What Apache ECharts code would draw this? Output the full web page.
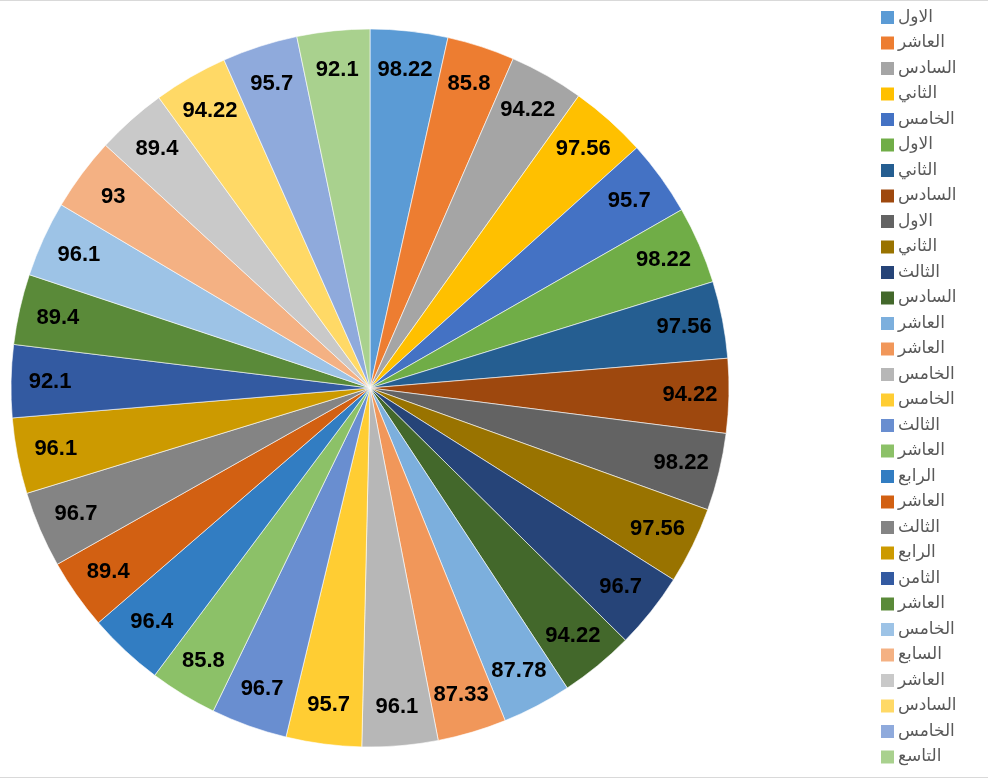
<!DOCTYPE html>
<html>
<head>
<meta charset="utf-8">
<script src="https://cdn.jsdelivr.net/npm/echarts@6/dist/echarts.min.js"></script>
<style>
html,body{margin:0;padding:0;background:#fff;}
#chart{width:988px;height:778px;box-sizing:border-box;border-top:1px solid #d9d9d9;border-bottom:1px solid #d9d9d9;}
</style>
</head>
<body>
<div id="chart"></div>
<script>
const categories = ['الاول','العاشر','السادس','الثاني','الخامس','الاول','الثاني','السادس','الاول','الثاني',
  'الثالث','السادس','العاشر','العاشر','الخامس','الخامس','الثالث','العاشر','الرابع','العاشر',
  'الثالث','الرابع','الثامن','العاشر','الخامس','السابع','العاشر','السادس','الخامس','التاسع'];
const values = [98.22,85.8,94.22,97.56,95.7,98.22,97.56,94.22,98.22,97.56,
  96.7,94.22,87.78,87.33,96.1,95.7,96.7,85.8,96.4,89.4,
  96.7,96.1,92.1,89.4,96.1,93,89.4,94.22,95.7,92.1];
const colors = ['#5B9BD5','#ED7D31','#A5A5A5','#FFC000','#4472C4','#70AD47','#255E91','#9E480E','#636363','#997300',
  '#264478','#43682B','#7CAFDD','#F1975A','#B7B7B7','#FFCD33','#698ED0','#8CC168','#327DC2','#D26012',
  '#848484','#CC9A00','#335AA1','#5A8A39','#9DC3E6','#F4B183','#C9C9C9','#FFD966','#8FAADC','#A9D18E'];

const names = categories.map((c, i) => c + '#' + i);
const mainData = values.map((v, i) => ({ name: names[i], value: v, itemStyle: { color: colors[i] } }));
const ringData = values.map((v, i) => ({ name: 'lbl' + i, value: v }));

const chart = echarts.init(document.getElementById('chart'));
chart.setOption({
  animation: false,
  legend: {
    orient: 'vertical',
    left: 874,
    top: 3,
    height: 775,
    itemWidth: 15,
    itemHeight: 15,
    itemGap: 8.5,
    icon: 'rect',
    data: names,
    formatter: n => n.split('#')[0],
    textStyle: { fontSize: 17, color: '#595959', fontFamily: 'DejaVu Sans, Arial, sans-serif', padding: [0, 0, 0, -2] }
  },
  series: [
    {
      type: 'pie',
      center: [370, 387],
      radius: [0, 359],
      startAngle: 90,
      clockwise: true,
      data: mainData,
      label: { show: false },
      labelLine: { show: false },
      itemStyle: { borderColor: '#ffffff', borderWidth: 0.6 },
      emphasis: { disabled: true }
    },
    {
      type: 'pie',
      center: [370, 387],
      radius: [275, 359],
      startAngle: 90,
      clockwise: true,
      silent: true,
      data: ringData,
      avoidLabelOverlap: false,
      itemStyle: { color: 'rgba(0,0,0,0)' },
      label: {
        show: true,
        position: 'inside',
        formatter: p => String(p.value),
        fontSize: 22,
        fontWeight: 'bold',
        color: '#000',
        fontFamily: 'Liberation Sans, Arial, sans-serif'
      },
      labelLine: { show: false },
      emphasis: { disabled: true }
    }
  ]
});
</script>
</body>
</html>
